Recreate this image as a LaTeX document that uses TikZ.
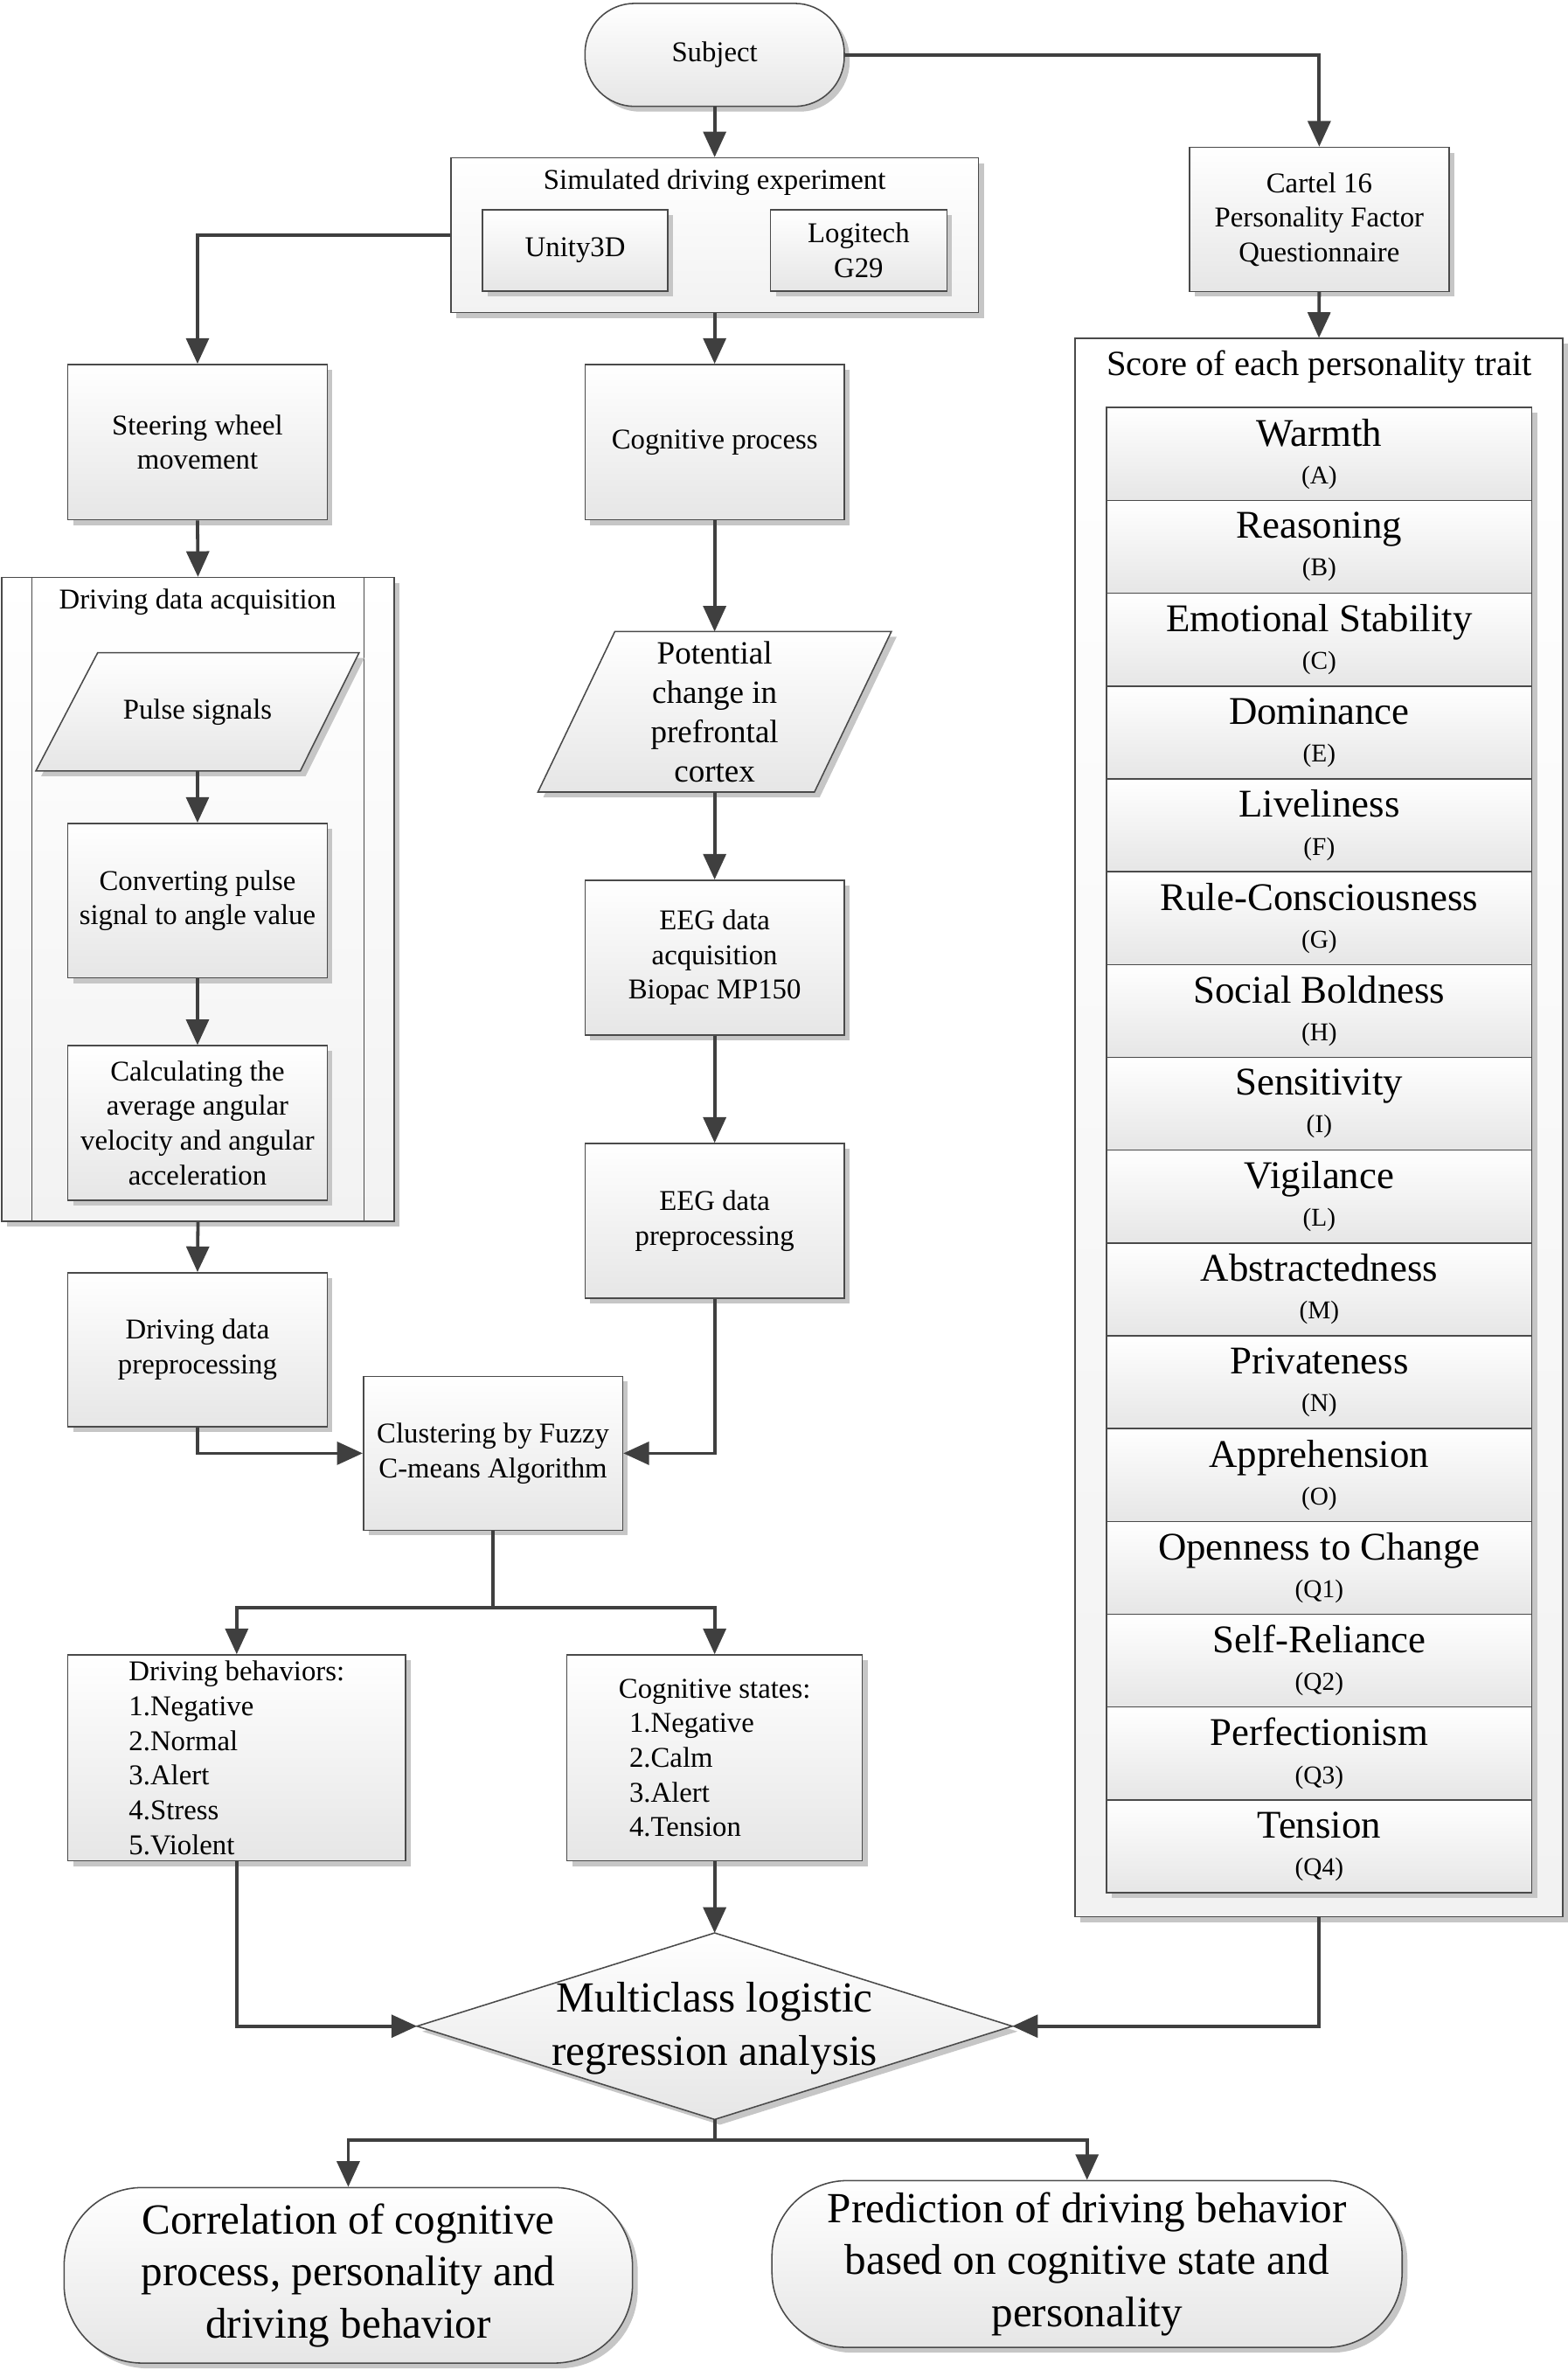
\documentclass[tikz,border=0pt]{standalone}
\usepackage{fontspec}
\setmainfont{Liberation Serif}
\usetikzlibrary{arrows.meta,shadows,calc}
\definecolor{lc}{HTML}{3F3F3F}
\definecolor{bc}{HTML}{4A4A4A}
\definecolor{fb}{HTML}{E6E6E6}
\definecolor{fc}{HTML}{F2F2F2}
\definecolor{shc}{HTML}{C6C6C6}
\newcommand{\myfs}[2]{\fontsize{#1}{#2}\selectfont}
\begin{document}
\begin{tikzpicture}[x=1pt,y=-1pt,
  ln/.style={draw=lc, line width=2.2pt},
  arr/.style={ln, -{Triangle[length=17pt,width=15pt]}},
  shad/.style={drop shadow={shadow xshift=3.5pt, shadow yshift=-3.5pt, fill=shc, opacity=1}},
  box/.style={draw=bc, line width=0.9pt, top color=white, bottom color=fb, shad, inner sep=0pt, align=center, font={\myfs{19}{23}}},
  cont/.style={draw=bc, line width=0.9pt, top color=white, bottom color=fc, shad, inner sep=0pt},
  holder/.style={draw=none, fill=none, inner sep=0pt},
  shp/.style={draw=bc, line width=0.9pt, top color=white, bottom color=fb, shad},
  txt/.style={inner sep=0pt, align=center, font={\myfs{19}{23}}},
  thinl/.style={draw=bc, line width=0.9pt}
]
\useasboundingbox (0,0) rectangle (1040,1571.6);

% ---- top
\node[box, rounded corners=33pt, minimum width=172pt, minimum height=68.3pt] (subj) at (474,36.4) {Subject};

\node[cont, minimum width=350pt, minimum height=102.6pt] (sim) at (474,156) {};
\node[txt] (simtitle) at (474,120.7) {Simulated driving experiment};
\node[box, minimum width=123pt, minimum height=54pt] (unity) at (381.5,166) {Unity3D};
\node[box, minimum width=117pt, minimum height=54pt] (logi) at (569.5,166) {Logitech\\G29};

\node[box, minimum width=172pt, minimum height=95.6pt] (cartel) at (875,145.5) {Cartel 16\\Personality Factor\\Questionnaire};

% ---- score container
\node[cont, minimum width=323.6pt, minimum height=1046.5pt] (score) at (874.8,747.75) {};
\node[txt, font={\myfs{23.5}{26}}] (scoretitle) at (875,243) {Score of each personality trait};
\foreach \nm/\lt [count=\i] in {Warmth/A, Reasoning/B, Emotional Stability/C, Dominance/E, Liveliness/F, Rule-Consciousness/G, Social Boldness/H, Sensitivity/I, Vigilance/L, Abstractedness/M, Privateness/N, Apprehension/O, Openness to Change/Q1, Self-Reliance/Q2, Perfectionism/Q3, Tension/Q4} {
  \pgfmathsetmacro\yy{269.3+(\i-0.5)*61.55}
  \node[box, minimum width=282pt, minimum height=61.55pt, font={\myfs{17}{25}}] (row\i) at (875,\yy+1) {{\myfs{26}{28}\nm}\\(\lt)};
}

% ---- left column
\node[box, minimum width=172pt, minimum height=103pt] (steer) at (131,293.2) {Steering wheel\\movement};
\node[cont, minimum width=260.2pt, minimum height=427pt] (dda) at (131.3,596.5) {};
\draw[thinl] ($(dda.north west)+(20.4,0)$) -- ($(dda.south west)+(20.4,0)$);
\draw[thinl] ($(dda.north east)+(-20.4,0)$) -- ($(dda.south east)+(-20.4,0)$);
\node[txt] (ddatitle) at (131,399) {Driving data acquisition};

\node[holder, minimum width=214pt, minimum height=78pt] (pulse) at (131,472) {};
\draw[shp] ($(pulse.north west)+(41,0)$) -- (pulse.north east) -- ($(pulse.south east)+(-39,0)$) -- (pulse.south west) -- cycle;
\node[txt] (pulsetxt) at (pulse.center) {Pulse signals};

\node[box, minimum width=172pt, minimum height=102.4pt] (conv) at (131,597.2) {Converting pulse\\signal to angle value};
\node[box, minimum width=172pt, minimum height=102.4pt] (calc) at (131,744.6) {Calculating the\\average angular\\velocity and angular\\acceleration};
\node[box, minimum width=172pt, minimum height=102pt] (ddp) at (131,895) {Driving data\\preprocessing};

% ---- middle column
\node[box, minimum width=172pt, minimum height=103pt] (cog) at (474,293.2) {Cognitive process};
\node[holder, minimum width=234pt, minimum height=106pt] (pot) at (474,472) {};
\draw[shp] ($(pot.north west)+(51,0)$) -- (pot.north east) -- ($(pot.south east)+(-51,0)$) -- (pot.south west) -- cycle;
\node[txt, font={\myfs{21.5}{26}}] (pottxt) at (pot.center) {Potential\\change in\\prefrontal\\cortex};
\node[box, minimum width=172pt, minimum height=102.6pt] (eega) at (474,635) {EEG data\\acquisition\\Biopac MP150};
\node[box, minimum width=172pt, minimum height=102.6pt] (eegp) at (474,809.6) {EEG data\\preprocessing};

\node[box, minimum width=172pt, minimum height=102pt] (clus) at (327,963.7) {Clustering by Fuzzy\\C-means Algorithm};

\node[box, minimum width=224pt, minimum height=136.6pt, align=left] (db) at (157,1165.7) {Driving behaviors:\\1.Negative\\2.Normal\\3.Alert\\4.Stress\\5.Violent};
\node[box, minimum width=196pt, minimum height=136.6pt, align=left] (cs) at (474,1165.7) {Cognitive states:\\\hspace*{7pt}1.Negative\\\hspace*{7pt}2.Calm\\\hspace*{7pt}3.Alert\\\hspace*{7pt}4.Tension};

\node[holder, minimum width=394.4pt, minimum height=123.3pt] (dia) at (474,1343.6) {};
\draw[shp] (dia.north) -- (dia.east) -- (dia.south) -- (dia.west) -- cycle;
\node[txt, font={\myfs{28.5}{35}}] (diatxt) at (474,1345) {Multiclass logistic\\regression analysis};

\node[box, rounded corners=52pt, minimum width=377pt, minimum height=116.4pt, font={\myfs{28.5}{34.5}}] (corr) at (231,1508.8) {Correlation of cognitive\\process, personality and\\driving behavior};
\node[box, rounded corners=50pt, minimum width=418pt, minimum height=110.6pt, font={\myfs{28.5}{34.5}}] (pred) at (721,1501.3) {Prediction of driving behavior\\based on cognitive state and\\personality};

% ---- connectors
\draw[arr] (subj.south) -- (sim.north);
\draw[arr] (subj.east) -| (cartel.north);
\draw[arr] (sim.west) -| (steer.north);
\draw[arr] (sim.south) -- (cog.north);
\draw[arr] (cartel.south) -- (score.north);
\draw[arr] (steer.south) -- (dda.north);
\draw[arr] (cog.south) -- (pot.north);
\draw[arr] (pulse.south) -- (conv.north);
\draw[arr] (conv.south) -- (calc.north);
\draw[arr] (dda.south) -- (ddp.north);
\draw[arr] (pot.south) -- (eega.north);
\draw[arr] (eega.south) -- (eegp.north);
\draw[arr] (ddp.south) |- (clus.west);
\draw[arr] (eegp.south) |- (clus.east);
\coordinate (split1) at ($(clus.south)+(0,50.8)$);
\draw[ln] (clus.south) -- (split1);
\draw[arr] (split1) -| (db.north);
\draw[arr] (split1) -| (cs.north);
\draw[arr] (db.south) |- (dia.west);
\draw[arr] (cs.south) -- (dia.north);
\draw[arr] (score.south) |- (dia.east);
\coordinate (split2) at ($(dia.south)+(0,13.7)$);
\draw[ln] (dia.south) -- (split2);
\draw[arr] (split2) -| (corr.north);
\draw[arr] (split2) -| (pred.north);
\end{tikzpicture}
\end{document}
